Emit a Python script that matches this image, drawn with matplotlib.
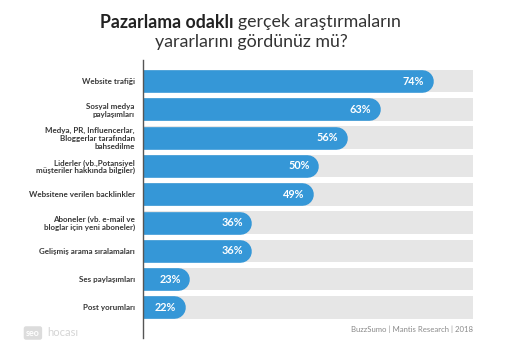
""" Pazarlama odakli arastirma yararlari - yatay bar grafik """

import matplotlib
matplotlib.use('Agg')
import matplotlib.pyplot as plt

categories = [
    'Website trafiği',
    'Sosyal medya\npaylaşımları',
    'Medya, PR, Influencerlar,\nBloggerlar tarafından\nbahsedilme',
    'Liderler (vb.,Potansiyel\nmüşteriler hakkında bilgiler)',
    'Websitene verilen backlinkler',
    'Aboneler (vb. e-mail ve\nbloglar için yeni aboneler)',
    'Gelişmiş arama sıralamaları',
    'Ses paylaşımları',
    'Post yorumları',
]
values = [74, 63, 56, 50, 49, 36, 36, 23, 22]
value_labels = ['74%', '63%', '56%', '50%', '49%', '36%', '36%', '23%', '22%']

BLUE = '#3597d7'
GREY = '#e6e6e6'
FONT = 'Lato'

plt.rcParams['font.family'] = [FONT, 'DejaVu Sans']

fig = plt.figure(figsize=(5.12, 3.55), dpi=100)
ax = fig.add_axes([143 / 512, 17 / 355, 330 / 512, 278 / 355])

x_min, x_max = 13.2, 82.4
y_top, y_bot = -0.742, 9.08
bar_h = 0.8
y = list(range(len(values)))

# grey track behind every bar
ax.barh(y, x_max, height=bar_h, color=GREY, zorder=1)

# blue bars with a rounded right end
px_per_unit = 330 / (x_max - x_min)
bar_px = bar_h * 278 / (y_bot - y_top)
cap = (bar_px / 2) / px_per_unit
lw_pt = bar_px * 72 / 100
for yi, v in zip(y, values):
    ax.plot([0, v - cap], [yi, yi], color=BLUE, lw=lw_pt,
            solid_capstyle='round', zorder=2)

for yi, v, lab in zip(y, values, value_labels):
    ax.text(v - 1.9, yi, lab, ha='right', va='center', color='white',
            fontsize=7.8, fontweight='bold', zorder=3)

ax.set_xlim(x_min, x_max)
ax.set_ylim(y_bot, y_top)
ax.set_yticks(y)
ax.set_yticklabels(categories, fontsize=5.8, fontweight='bold',
                   color='#383838', linespacing=1.12)
ax.tick_params(axis='y', length=0, pad=6)
ax.set_xticks([])
for s in ['top', 'right', 'bottom']:
    ax.spines[s].set_visible(False)
ax.spines['left'].set_color('#555555')
ax.spines['left'].set_linewidth(1.0)

# title, first part bold
t1 = fig.text(0, 1 - 22 / 355, 'Pazarlama odaklı ', fontsize=12.8,
              fontweight='bold', color='#222222', va='center')
t2 = fig.text(0, 1 - 22 / 355, 'gerçek araştırmaların', fontsize=12.8,
              color='#333333', va='center')
fig.canvas.draw()
r = fig.canvas.get_renderer()
w1 = t1.get_window_extent(r).width / fig.bbox.width
w2 = t2.get_window_extent(r).width / fig.bbox.width
start = 250 / 512 - (w1 + w2) / 2
t1.set_x(start)
t2.set_x(start + w1)
fig.text(251 / 512, 1 - 42 / 355, 'yararlarını gördünüz mü?', fontsize=12.8,
         color='#333333', ha='center', va='center')

# source
fig.text(473 / 512, 1 - 329 / 355, 'BuzzSumo | Mantis Research | 2018',
         fontsize=5.6, color='#8a8a8a', ha='right', va='center')

# watermark
fig.text(26 / 512, 1 - 333 / 355, 'seo', fontsize=6.5, color='white',
         fontweight='bold', va='center',
         bbox=dict(boxstyle='round,pad=0.25', fc='#dcdcdc', ec='none'))
fig.text(47 / 512, 1 - 333 / 355, 'hocası', fontsize=8, color='#d5d5d5',
         va='center')

plt.savefig('out.png', dpi=100)
